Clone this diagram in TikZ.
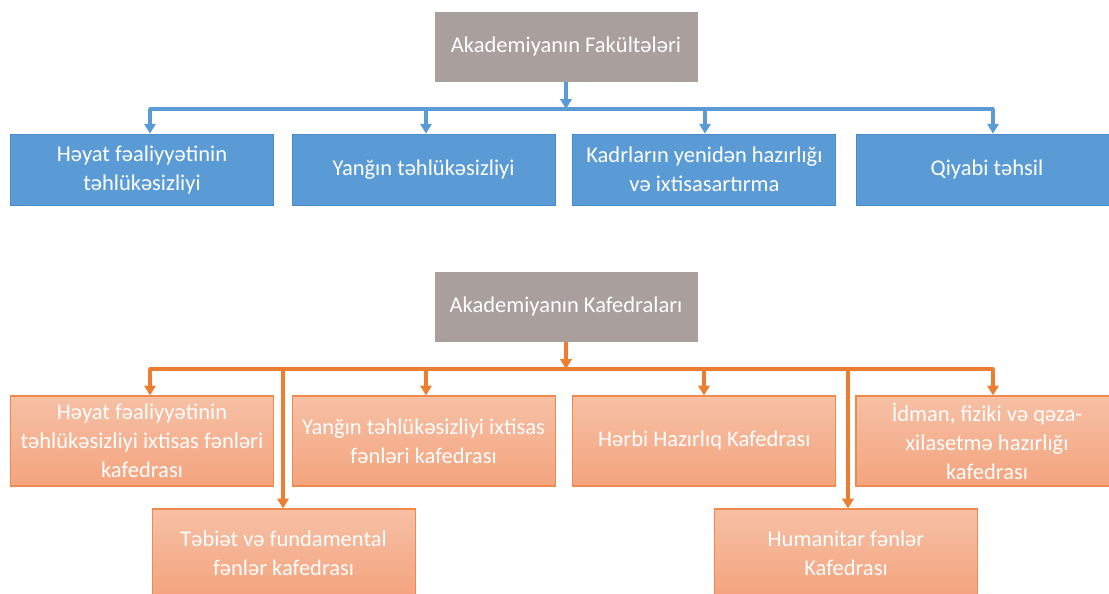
\documentclass[tikz,border=0pt]{standalone}
\usepackage{fontspec}
\setmainfont{Carlito}
\usetikzlibrary{arrows.meta}

\definecolor{headgray}{HTML}{A9A09D}
\definecolor{fakblue}{HTML}{5B9BD5}
\definecolor{fakedge}{HTML}{4A8AC6}
\definecolor{kaftop}{HTML}{F6C0A5}
\definecolor{kafbot}{HTML}{F4A47E}
\definecolor{kafedge}{HTML}{EF8A4C}
\definecolor{kafline}{HTML}{ED7D31}

\begin{document}
\begin{tikzpicture}[
  font=\fontsize{16}{20.6}\selectfont,
  head/.style={fill=headgray, text=white, minimum width=6.575cm, minimum height=1.75cm, inner sep=0},
  fakbox/.style={fill=fakblue, draw=fakedge, line width=0.6pt, text=white, align=center,
    minimum width=6.575cm, minimum height=1.775cm, inner sep=0},
  kafbox/.style={top color=kaftop, bottom color=kafbot, draw=kafedge, line width=0.8pt, text=white,
    align=center, minimum width=6.575cm, minimum height=2.25cm, inner sep=0},
  bluewire/.style={draw=fakblue, line width=2.4pt},
  orangewire/.style={draw=kafline, line width=2.4pt},
  tip/.style={-{Triangle[length=7pt,width=8pt]}}
]
\useasboundingbox (0,0) rectangle (27.725,-14.85);

% Fakultələr
\node[head] (fakhead) at (14.15,-1.175) {Akademiyanın Fakültələri};

\node[fakbox] (fak1) at (3.55,-4.24) {Həyat fəaliyyətinin\\təhlükəsizliyi};
\node[fakbox] (fak2) at (10.59,-4.24) {Yanğın təhlükəsizliyi};
\node[fakbox] (fak3) at (17.61,-4.24) {Kadrların yenidən hazırlığı\\və ixtisasartırma};
\node[fakbox, minimum width=7cm] (fak4) at (24.9,-4.24) {\hspace*{-0.45cm}Qiyabi təhsil};

\coordinate (fbus) at (14.15,-2.725);
\coordinate (fd1) at (3.75,-2.725);
\coordinate (fd2) at (10.65,-2.725);
\coordinate (fd3) at (17.625,-2.725);
\coordinate (fd4) at (24.825,-2.725);

\draw[bluewire, tip] (fakhead) -- (fbus);
\draw[bluewire, line cap=round] (fd1) -- (fd4);
\draw[bluewire, tip] (fd1) -- (fd1 |- fak1.north);
\draw[bluewire, tip] (fd2) -- (fd2 |- fak2.north);
\draw[bluewire, tip] (fd3) -- (fd3 |- fak3.north);
\draw[bluewire, tip] (fd4) -- (fd4 |- fak4.north);

% Kafedralar
\node[head] (kafhead) at (14.15,-7.675) {Akademiyanın Kafedraları};

\node[kafbox] (kaf1) at (3.55,-11.025) {Həyat fəaliyyətinin\\təhlükəsizliyi ixtisas fənləri\\kafedrası};
\node[kafbox] (kaf2) at (10.59,-11.025) {Yanğın təhlükəsizliyi ixtisas\\fənləri kafedrası};
\node[kafbox] (kaf3) at (17.61,-11.025) {Hərbi Hazırlıq Kafedrası};
\node[kafbox, minimum width=7cm] (kaf4) at (24.9,-11.025) {\hspace*{-0.45cm}İdman, fiziki və qəza-\\\hspace*{-0.45cm}xilasetmə hazırlığı\\\hspace*{-0.45cm}kafedrası};

\node[kafbox, minimum height=2.2cm] (kaf5) at (7.09,-13.825) {Təbiət və fundamental\\fənlər kafedrası};
\node[kafbox, minimum height=2.2cm] (kaf6) at (21.15,-13.825) {Humanitar fənlər\\Kafedrası};

\coordinate (kbus) at (14.15,-9.225);
\coordinate (kd1) at (3.75,-9.225);
\coordinate (kd2) at (10.65,-9.225);
\coordinate (kd3) at (17.6,-9.225);
\coordinate (kd4) at (24.825,-9.225);
\coordinate (kd5) at (7.075,-9.225);
\coordinate (kd6) at (21.2,-9.225);

\draw[orangewire, tip] (kafhead) -- (kbus);
\draw[orangewire, line cap=round] (kd1) -- (kd4);
\draw[orangewire, tip] (kd1) -- (kd1 |- kaf1.north);
\draw[orangewire, tip] (kd2) -- (kd2 |- kaf2.north);
\draw[orangewire, tip] (kd3) -- (kd3 |- kaf3.north);
\draw[orangewire, tip] (kd4) -- (kd4 |- kaf4.north);
\draw[orangewire, tip] (kd5) -- (kd5 |- kaf5.north);
\draw[orangewire, tip] (kd6) -- (kd6 |- kaf6.north);

\end{tikzpicture}
\end{document}
